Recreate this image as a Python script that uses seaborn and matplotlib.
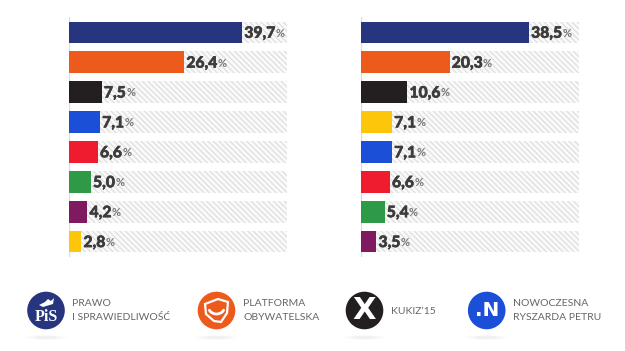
import matplotlib
matplotlib.use("Agg")
import matplotlib.pyplot as plt
import matplotlib.patheffects as pe
from matplotlib.patches import Circle, Ellipse, Polygon
import numpy as np
import pandas as pd
import seaborn as sns

parties_left = ["PiS", "PO", "Kukiz'15", "Nowoczesna", "PSL", "SLD", "Razem", "KORWiN"]
values_left = [39.7, 26.4, 7.5, 7.1, 6.6, 5.0, 4.2, 2.8]
parties_right = ["PiS", "PO", "Kukiz'15", "KORWiN", "Nowoczesna", "PSL", "SLD", "Razem"]
values_right = [38.5, 20.3, 10.6, 7.1, 7.1, 6.6, 5.4, 3.5]
palette = {"PiS": "#27357f", "PO": "#ec5a1c", "Kukiz'15": "#231f20", "Nowoczesna": "#1c4fd8",
           "PSL": "#ee1c2e", "SLD": "#2e9a47", "Razem": "#7f1a60", "KORWiN": "#fec60a"}
legend_names = [["PRAWO", "I SPRAWIEDLIWOŚĆ"], ["PLATFORMA", "OBYWATELSKA"], ["KUKIZ\u201915"], ["NOWOCZESNA", "RYSZARDA PETRU"]]
AXIS_MAX = 50

W, H = 625, 351
sns.set_theme(style="white")
plt.rcParams["font.family"] = ["Lato", "DejaVu Sans"]
plt.rcParams["hatch.color"] = "#e2e2e2"
plt.rcParams["hatch.linewidth"] = 1.1
fig = plt.figure(figsize=(W / 100, H / 100), dpi=100, facecolor="white")

def panel(x0, names, vals):
    ax = fig.add_axes([x0 / W, 1 - 256.6 / H, 218 / W, 239.2 / H])
    df = pd.DataFrame({"party": names, "value": vals, "track": [AXIS_MAX] * len(vals)})
    sns.barplot(df, y="party", x="track", order=names, color="white", width=0.72, ax=ax,
                saturation=1, linewidth=0, hatch="\\" * 6)
    for c in ax.containers:
        for p in c:
            p.set_facecolor("#fbfbfb")
            p.set_edgecolor("#e2e2e2")
            p.set_linewidth(0)
    sns.barplot(df, y="party", x="value", hue="party", order=names, palette=palette,
                width=0.72, saturation=1, legend=False, ax=ax, linewidth=0)
    ax.set_xlim(0, AXIS_MAX)
    ax.set_ylim(len(vals) - 0.5, -0.5)
    ax.axis("off")
    for i, v in enumerate(vals):
        a = ax.annotate(f"{v:.1f}".replace(".", ","), (v, i), xytext=(1.6, -0.3),
                        textcoords="offset points", va="center", ha="left",
                        fontsize=11.3, fontweight=900, color="#3c3c3c", family="Lato",
                        path_effects=[pe.withStroke(linewidth=0.4, foreground="#3c3c3c")])
        ax.annotate("%", xy=(1, 0.5), xycoords=a, xytext=(0.2, -0.3), textcoords="offset points",
                    va="center", ha="left", fontsize=8, fontweight="bold", color="#777777", family="Lato")
    ax.add_line(plt.Line2D([0, 0], [-0.5, len(vals) - 0.5], color="#dddddd", lw=1, zorder=0.5))

panel(69, parties_left, values_left)
panel(361, parties_right, values_right)

ov = fig.add_axes([0, 0, 1, 1], facecolor="none")
ov.set_xlim(0, W)
ov.set_ylim(H, 0)
ov.axis("off")

logo_x = [46, 216.5, 364.5, 486.7]
logo_colors = [palette["PiS"], palette["PO"], palette["Kukiz'15"], palette["Nowoczesna"]]
text_x = [72, 243, 391, 513]
for cx, col in zip(logo_x, logo_colors):
    for w, a in [(46, .012), (34, .018), (22, .022)]:
        ov.add_patch(Ellipse((cx, 337.5), w, 4, color="#000000", alpha=a, lw=0))
    ov.add_patch(Circle((cx, 310.5), 18.8, color=col, lw=0))
for x, lines in zip(text_x, legend_names):
    if len(lines) == 2:
        ov.text(x, 303, lines[0], fontsize=7.5, color="#666666", va="center", ha="left")
        ov.text(x, 318, lines[1], fontsize=7.5, color="#666666", va="center", ha="left")
    else:
        ov.text(x, 311, lines[0], fontsize=7.5, color="#666666", va="center", ha="left")

ov.text(46, 317, "PiS", color="white", fontsize=11.5, fontweight="bold", family="Liberation Serif", ha="center", va="center")
ov.add_patch(Polygon([[39, 305], [45, 302], [48, 299], [51, 301], [54, 298], [53, 304], [43, 307]], closed=True, fc="white", lw=0))
ov.text(364.5, 310.5, "X", color="white", fontsize=22, fontweight="bold", family="DejaVu Sans", ha="center", va="center")
ov.text(486.7, 310.5, ".N", color="white", fontsize=14.5, fontweight="bold", family="DejaVu Sans", ha="center", va="center")
shield = Polygon([[205, 304], [218, 299], [228, 302], [227, 313], [221, 322], [214, 321], [206, 314]], closed=True,
                 fc="none", ec="white", lw=1.6)
ov.add_patch(shield)
th = np.linspace(0.15 * np.pi, 0.85 * np.pi, 20)
ov.plot(216.5 + 8 * np.cos(th), 307 + 7 * np.sin(th), color="white", lw=2)

fig.savefig("out.png", dpi=100)
